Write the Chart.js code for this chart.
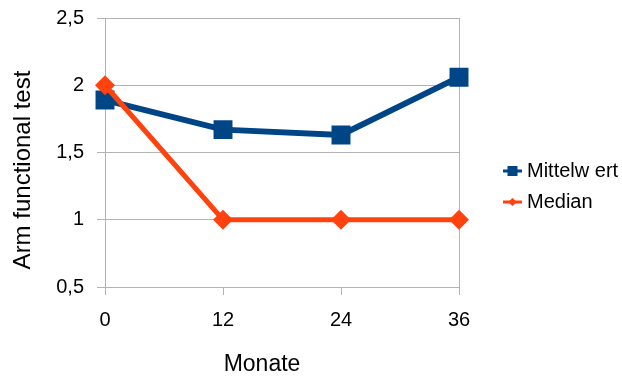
<!DOCTYPE html>
<html>
<head>
<meta charset="utf-8">
<script src="https://cdn.jsdelivr.net/npm/chart.js@4/dist/chart.umd.min.js"></script>
<style>
  html, body { margin: 0; padding: 0; background: #ffffff; }
  #wrap { width: 622px; height: 378px; }
</style>
</head>
<body>
<div id="wrap"><canvas id="c" width="622" height="378"></canvas></div>
<script>
// Follow-up time points (months)
const months = ['0', '12', '24', '36'];
// Arm functional test scores
const meanValues = [1.89, 1.67, 1.63, 2.06];
const medianValues = [2, 1, 1, 1];
const seriesNames = ['Mittelw ert', 'Median'];
const yTicks = [0.5, 1, 1.5, 2, 2.5];
const xTitle = 'Monate';
const yTitle = 'Arm functional test';

const BLUE = '#004586';
const ORANGE = '#ff420e';
const GRID = '#b3b3b3';
const FONT = "'Liberation Sans', Arial, sans-serif";

// Legend swatch: short line with the series marker, drawn at the right end of a wider canvas
function legendSwatch(color, shape) {
  const cv = document.createElement('canvas');
  cv.width = 57; cv.height = 12;
  const g = cv.getContext('2d');
  const x0 = 38, x1 = 57, cx = (x0 + x1) / 2;
  g.strokeStyle = color; g.fillStyle = color; g.lineWidth = 3;
  g.beginPath(); g.moveTo(x0, 6); g.lineTo(x1, 6); g.stroke();
  g.beginPath();
  if (shape === 'rect') {
    g.rect(cx - 5, 1, 10, 10);
  } else {
    g.moveTo(cx, 2); g.lineTo(cx + 4.5, 6); g.lineTo(cx, 10); g.lineTo(cx - 4.5, 6); g.closePath();
  }
  g.fill();
  return cv;
}
const swatches = [legendSwatch(BLUE, 'rect'), legendSwatch(ORANGE, 'diamond')];

// Axis titles drawn over the whole diagram area
const axisTitles = {
  id: 'axisTitles',
  afterDraw(chart) {
    const ctx = chart.ctx;
    ctx.save();
    ctx.fillStyle = '#000000';
    ctx.textAlign = 'center';
    ctx.textBaseline = 'middle';
    ctx.font = "23px " + FONT;
    ctx.fillText(xTitle, 262, 365);
    ctx.translate(23, 170);
    ctx.rotate(-Math.PI / 2);
    ctx.font = "24px " + FONT;
    ctx.fillText(yTitle, 0, 0);
    ctx.restore();
  }
};

new Chart(document.getElementById('c'), {
  type: 'line',
  data: {
    labels: months,
    datasets: [
      {
        label: seriesNames[0],
        data: meanValues,
        borderColor: BLUE,
        backgroundColor: BLUE,
        borderWidth: 6,
        pointStyle: 'rect',
        pointRadius: 13.4,
        pointBorderWidth: 0,
        tension: 0,
        order: 1
      },
      {
        label: seriesNames[1],
        data: medianValues,
        borderColor: ORANGE,
        backgroundColor: ORANGE,
        borderWidth: 5,
        pointStyle: 'rectRot',
        pointRadius: 10,
        pointBorderWidth: 0,
        tension: 0,
        order: 0
      }
    ]
  },
  plugins: [axisTitles],
  options: {
    responsive: false,
    animation: false,
    devicePixelRatio: 1,
    layout: { padding: { top: 18, right: 0, bottom: 23, left: 0 } },
    plugins: {
      tooltip: { enabled: false },
      legend: {
        position: 'right',
        align: 'center',
        maxWidth: 163,
        labels: {
          font: { family: FONT, size: 20 },
          color: '#000000',
          usePointStyle: true,
          pointStyleWidth: 47,
          padding: 11,
          generateLabels: () => seriesNames.map((name, i) => ({
            text: name,
            pointStyle: swatches[i],
            fillStyle: i ? ORANGE : BLUE,
            strokeStyle: i ? ORANGE : BLUE,
            lineWidth: 0,
            datasetIndex: i,
            hidden: false
          }))
        }
      }
    },
    scales: {
      x: {
        offset: false,
        afterFit: (axis) => { axis.height = 68; axis.paddingLeft = 0; axis.paddingRight = 0; },
        grid: {
          color: (ctx) => (ctx.index === months.length - 1 ? GRID : 'rgba(0,0,0,0)'),
          tickColor: GRID,
          tickLength: 8,
          lineWidth: 1
        },
        border: { color: GRID },
        ticks: { font: { family: FONT, size: 20 }, color: '#000000', padding: 13, maxRotation: 0 }
      },
      y: {
        min: 0.5,
        max: 2.5,
        afterFit: (axis) => { axis.width = 105; axis.paddingTop = 0; axis.paddingBottom = 0; },
        afterBuildTicks: (axis) => { axis.ticks = yTicks.map(v => ({ value: v })); },
        grid: { color: GRID, tickColor: GRID, tickLength: 8, lineWidth: 1 },
        border: { color: GRID },
        ticks: {
          font: { family: FONT, size: 20 },
          color: '#000000',
          padding: 13,
          callback: (v) => String(v).replace('.', ',')
        }
      }
    }
  }
});
</script>
</body>
</html>
